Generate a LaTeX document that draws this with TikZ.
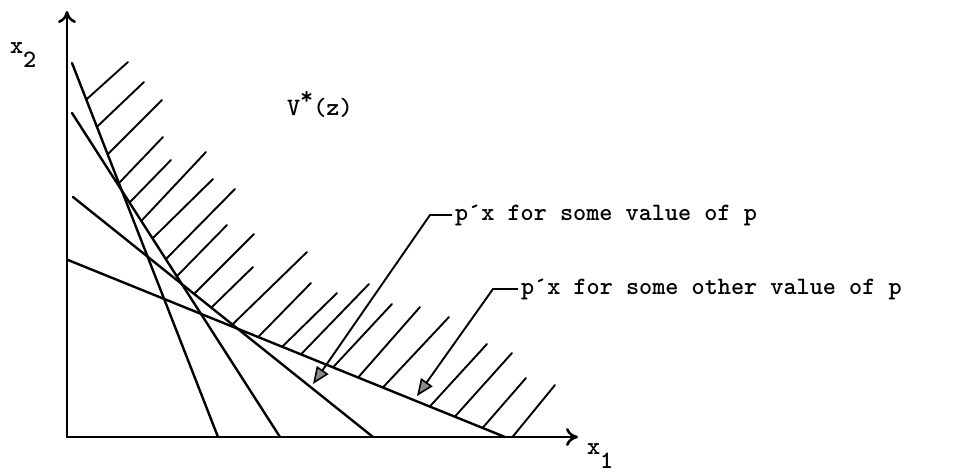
\documentclass[tikz,border=0pt]{standalone}
\usepackage{fontspec}
\usetikzlibrary{arrows.meta}
\tikzset{
  axis/.style={line width=2.8pt, line join=miter},
  bline/.style={line width=2.4pt, line cap=round},
  hatch/.style={line width=1.9pt, line cap=round},
  leader/.style={line width=1.9pt, line join=miter},
  lbl/.style={font=\ttfamily\bfseries\fontsize{25}{27}\selectfont, inner sep=0pt, outer sep=0pt},
  axtip/.tip={Computer Modern Rightarrow[length=12pt,width=18pt,line width=2.6pt]},
  ldtip/.tip={Triangle[length=17pt,width=14pt,line width=1.6pt,fill=black!45]}
}
\begin{document}
\begin{tikzpicture}[x=1pt,y=-1pt]
\useasboundingbox (0,0) rectangle (969,475);
% axes
\coordinate (O) at (67,437);
\coordinate (Ytop) at (67,11);
\coordinate (Xend) at (578,437);
\draw[axis, axtip-axtip] (Ytop) -- (O) -- (Xend);
% the four lines
\coordinate (l1s) at (72,63);  \coordinate (l1e) at (218,437);
\coordinate (l2s) at (72,113); \coordinate (l2e) at (280,437);
\coordinate (l3s) at (73,197); \coordinate (l3e) at (373,437);
\coordinate (l4s) at (68,260); \coordinate (l4e) at (505,437);
\coordinate (l5s) at (O);      \coordinate (l5e) at (Xend);
\foreach \k in {1,2,3,4} \draw[bline] (l\k s) -- (l\k e);
% hatching
\foreach \sx/\sy/\ex/\ey/\k in {
  88/98/128/62/1, 102/122/144/82/1, 110/152/162/100/1, 120/182/163/137/1,
  132/200/171/160/2, 145/217/206/152/2, 157/234/213/179/2, 168/257/235/189/2, 180/273/227/225/2,
  198/290/254/234/3, 213/306/253/267/3, 235/322/307/252/3,
  263/332/311/283/4, 287/342/337/293/4, 307/348/369/284/4, 337/363/392/304/4,
  362/373/420/307/4, 387/383/449/317/4, 432/404/487/344/4, 458/413/512/353/4,
  485/425/526/378/4, 514/435/555/385/5}
  \draw[hatch] (intersection cs: first line={(l\k s)--(l\k e)}, second line={(\sx,\sy)--(\ex,\ey)}) -- (\ex,\ey);
% labels
\node[lbl, anchor=base west] (x2) at (10,53) {x\raisebox{-14pt}{2}};
\node[lbl, anchor=base west] (x1) at (587,454) {x\raisebox{-14pt}{1}};
\node[lbl, anchor=base west] (vz) at (287,115) {V\raisebox{11pt}{*}(z)};
\node[lbl, anchor=west] (lab1) at (455,215) {p\char"00B4 x for some value of p};
\node[lbl, anchor=west] (lab2) at (521,289) {p\char"00B4 x for some other value of p};
% leaders
\coordinate (c1) at (430,215); \coordinate (t1) at (313,384);
\coordinate (c2) at (493,289); \coordinate (t2) at (417,396);
\draw[leader, -ldtip] ([xshift=-3pt]lab1.west) -- (c1) -- (t1);
\draw[leader, -ldtip] ([xshift=-3pt]lab2.west) -- (c2) -- (t2);
\end{tikzpicture}
\end{document}
